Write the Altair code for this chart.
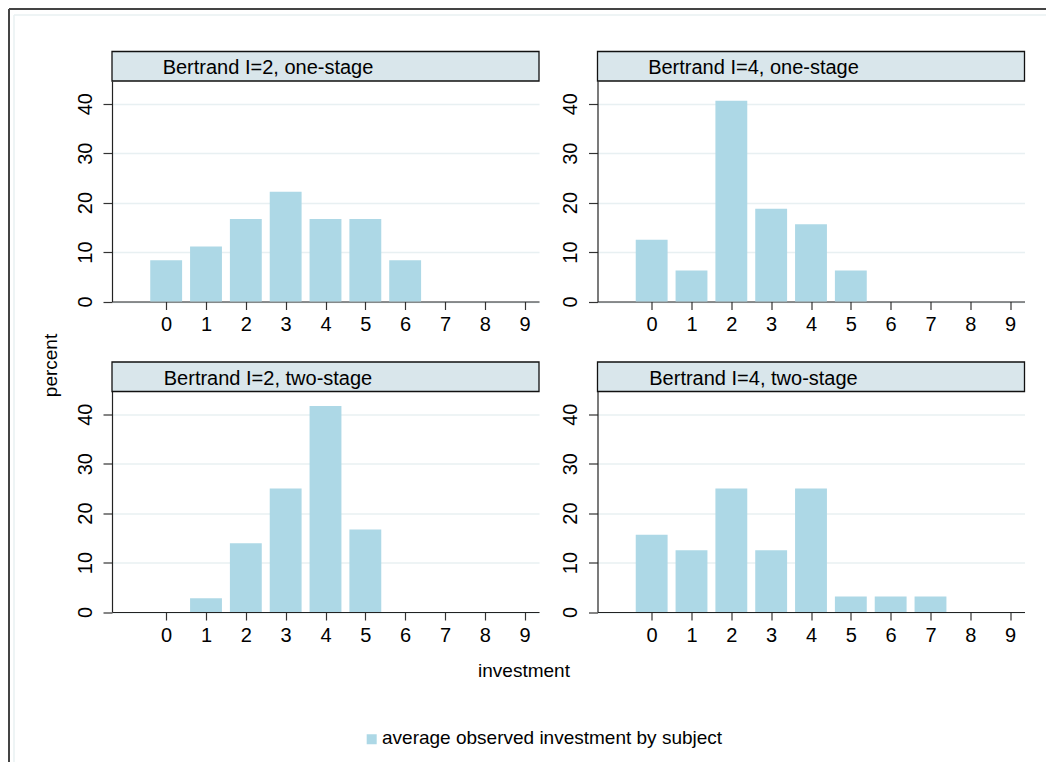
import altair as alt
import pandas as pd

# ---------------- data ----------------
investment = [0, 1, 2, 3, 4, 5, 6, 7, 8, 9]
panel_titles = [
    "Bertrand I=2, one-stage",
    "Bertrand I=4, one-stage",
    "Bertrand I=2, two-stage",
    "Bertrand I=4, two-stage",
]
pct_i2_one = [8.33, 11.11, 16.67, 22.22, 16.67, 16.67, 8.33, 0, 0, 0]
pct_i4_one = [12.5, 6.25, 40.63, 18.75, 15.63, 6.25, 0, 0, 0, 0]
pct_i2_two = [0, 2.78, 13.89, 25.0, 41.67, 16.67, 0, 0, 0, 0]
pct_i4_two = [15.63, 12.5, 25.0, 12.5, 25.0, 3.13, 3.13, 3.13, 0, 0]
y_ticks = [0, 10, 20, 30, 40]
legend_label = "average observed investment by subject"
x_title = "investment"
y_title = "percent"

# ---------------- styling / layout ----------------
BAR = "#add8e6"
HEAD_FILL = "#d9e6eb"
GRID = "#e8f0f2"
FONT = "Liberation Sans, Arial, sans-serif"
W, H = 427, 220.5
HEAD_H = 29.5
COL_GAP, ROW_GAP = 58.5, 89.5
P1X, P1Y = 112, 81  # page position of the first plot area
HALF = 0.4  # half bar width in data units

one = pd.DataFrame({"k": [0]})


def rel_x(px):
    return px - P1X


def rel_y(py):
    return py - P1Y


def panel(title, values, first=False):
    df = pd.DataFrame({"investment": investment, "percent": values})
    df = df[df["percent"] > 0]
    bars = (
        alt.Chart(df)
        .transform_calculate(x0=f"datum.investment - {HALF}", x1=f"datum.investment + {HALF}")
        .mark_bar(color=BAR)
        .encode(
            x=alt.X(
                "x0:Q",
                scale=alt.Scale(domain=[-1.36, 9.36], nice=False, zero=False),
                axis=alt.Axis(
                    values=investment, title=None, labelAngle=0, tickSize=8,
                    labelPadding=5, grid=False, labelFlush=False, labelOverlap=False,
                    labelFontSize=20, labelColor="#000", tickColor="#333",
                    domainColor="#222", domainWidth=1.2, tickWidth=1.2,
                ),
            ),
            x2="x1:Q",
            y=alt.Y(
                "percent:Q",
                scale=alt.Scale(domain=[0, 44.6], nice=False),
                axis=alt.Axis(
                    values=y_ticks, title=None, labelAngle=270, labelAlign="center",
                    labelBaseline="alphabetic", labelPadding=12, tickSize=9,
                    grid=True, gridColor=GRID, gridWidth=1.5, labelFontSize=20,
                    labelColor="#000", tickColor="#333", domainColor="#222",
                    domainWidth=1.2, tickWidth=1.2,
                ),
            ),
            y2=alt.datum(0),
        )
    )
    header = alt.Chart(one).mark_rect(fill=HEAD_FILL, stroke="#111", strokeWidth=1.3).encode(
        x=alt.value(0), x2=alt.value(W), y=alt.value(-HEAD_H), y2=alt.value(0)
    )
    head_text = (
        alt.Chart(pd.DataFrame({"t": [title]}))
        .mark_text(align="center", baseline="alphabetic", fontSize=20, color="#000")
        .encode(text="t:N", x=alt.value(156), y=alt.value(-7))
    )
    layers = [bars, header, head_text]
    if first:
        # outer frames
        dark_x, dark_y = rel_x(9), rel_y(9)
        light_x, light_y = rel_x(14), rel_y(15)
        bottom = rel_y(762)
        right = rel_x(1046)
        layers += [
            alt.Chart(one).mark_rule(color="#444", strokeWidth=2).encode(
                x=alt.value(dark_x), y=alt.value(dark_y), y2=alt.value(bottom)),
            alt.Chart(one).mark_rule(color="#444", strokeWidth=2).encode(
                x=alt.value(dark_x), x2=alt.value(right), y=alt.value(dark_y)),
            alt.Chart(one).mark_rule(color=GRID, strokeWidth=1.5).encode(
                x=alt.value(light_x), y=alt.value(light_y), y2=alt.value(bottom)),
            alt.Chart(one).mark_rule(color=GRID, strokeWidth=1.5).encode(
                x=alt.value(light_x), x2=alt.value(right), y=alt.value(light_y)),
            # axis titles
            alt.Chart(pd.DataFrame({"t": [y_title]})).mark_text(
                angle=270, align="center", baseline="middle", fontSize=19, color="#000"
            ).encode(text="t:N", x=alt.value(rel_x(50.5)), y=alt.value(rel_y(365.5))),
            alt.Chart(pd.DataFrame({"t": [x_title]})).mark_text(
                align="center", baseline="alphabetic", fontSize=19, color="#000"
            ).encode(text="t:N", x=alt.value(rel_x(524)), y=alt.value(rel_y(676.7))),
            # legend
            alt.Chart(one).mark_rect(fill=BAR).encode(
                x=alt.value(rel_x(366.7)), x2=alt.value(rel_x(376.7)),
                y=alt.value(rel_y(734.3)), y2=alt.value(rel_y(744.3))),
            alt.Chart(pd.DataFrame({"t": [legend_label]})).mark_text(
                align="left", baseline="alphabetic", fontSize=19, color="#000"
            ).encode(text="t:N", x=alt.value(rel_x(382)), y=alt.value(rel_y(744.3))),
        ]
    return alt.layer(*layers).properties(width=W, height=H)


chart = (
    alt.concat(
        panel(panel_titles[0], pct_i2_one, first=True),
        panel(panel_titles[1], pct_i4_one),
        panel(panel_titles[2], pct_i2_two),
        panel(panel_titles[3], pct_i4_two),
        columns=2,
        spacing=alt.RowColnumber(row=ROW_GAP, column=COL_GAP),
        bounds="flush",
    )
    .properties(padding=0, background="white")
    .configure(font=FONT)
    .configure_view(stroke=None)
)

chart.save("out.html", embed_options={"renderer": "svg", "actions": False})
